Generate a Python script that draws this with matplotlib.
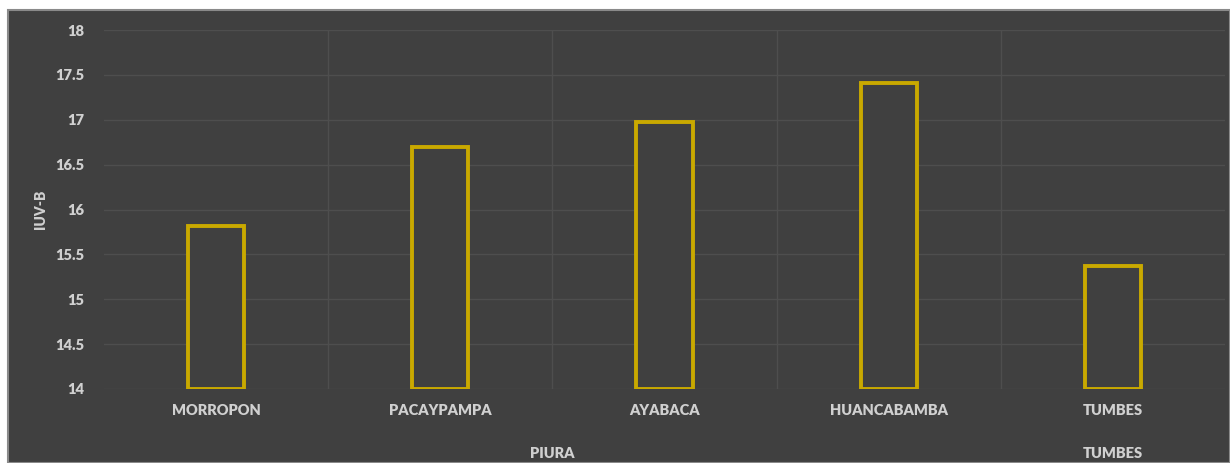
import matplotlib
matplotlib.use('Agg')
import matplotlib.pyplot as plt
import numpy as np
from matplotlib.patches import Rectangle

# datos
estaciones = ['MORROPON', 'PACAYPAMPA', 'AYABACA', 'HUANCABAMBA', 'TUMBES']
iuv_b = [15.82, 16.70, 16.97, 17.41, 15.37]
regiones = ['PIURA', 'TUMBES']
region_n = [4, 1]

bg = '#404040'
txt = '#d0d0d0'
oro = '#c9a900'
rej = '#4e4e4e'

plt.rcParams['font.family'] = ['Lato', 'DejaVu Sans']

fig = plt.figure(figsize=(12.3, 4.63), dpi=100)
fig.patch.set_facecolor('white')
fig.patches.append(Rectangle((8/1230, 0), 1 - 8/1230, 1 - 10/463, transform=fig.transFigure,
                             facecolor=bg, edgecolor='#8a8a8a', linewidth=1.5, zorder=-10))

ax = fig.add_axes([104/1230, 74/463, 1121/1230, 359/463])
ax.set_facecolor(bg)
idx = np.arange(len(estaciones))
base = 14
ax.bar(idx, np.array(iuv_b) - base, bottom=base, width=0.25, facecolor=bg,
       edgecolor=oro, linewidth=2.8, zorder=3)

ax.set_xlim(-0.5, len(estaciones) - 0.5)
ax.set_ylim(14, 18)
ax.set_yticks(np.arange(14, 18.01, 0.5))
ax.set_yticklabels(['14', '14.5', '15', '15.5', '16', '16.5', '17', '17.5', '18'])
ax.yaxis.grid(True, color=rej, linewidth=1)
for b in idx[:-1] + 0.5:
    ax.axvline(b, color=rej, linewidth=1, zorder=1)
ax.set_axisbelow(True)

for s in ax.spines.values():
    s.set_visible(False)
ax.tick_params(axis='both', length=0, colors=txt, labelsize=10.5)
ax.tick_params(axis='y', pad=14)
ax.tick_params(axis='x', pad=11)
ax.set_xticks(idx)
ax.set_xticklabels(estaciones, fontweight='heavy')
for t in ax.get_yticklabels():
    t.set_fontweight('heavy')

ax.set_ylabel('IUV-B', color=txt, fontsize=10, fontweight='heavy', labelpad=6)

# etiquetas de region
ini = 0
for r, n in zip(regiones, region_n):
    centro = ini + (n - 1) / 2
    ax.text(centro, -0.18, r, transform=ax.get_xaxis_transform(), ha='center', va='center',
            color=txt, fontsize=10.5, fontweight='heavy')
    ini += n

fig.savefig('out.png', dpi=100, facecolor=fig.get_facecolor())
